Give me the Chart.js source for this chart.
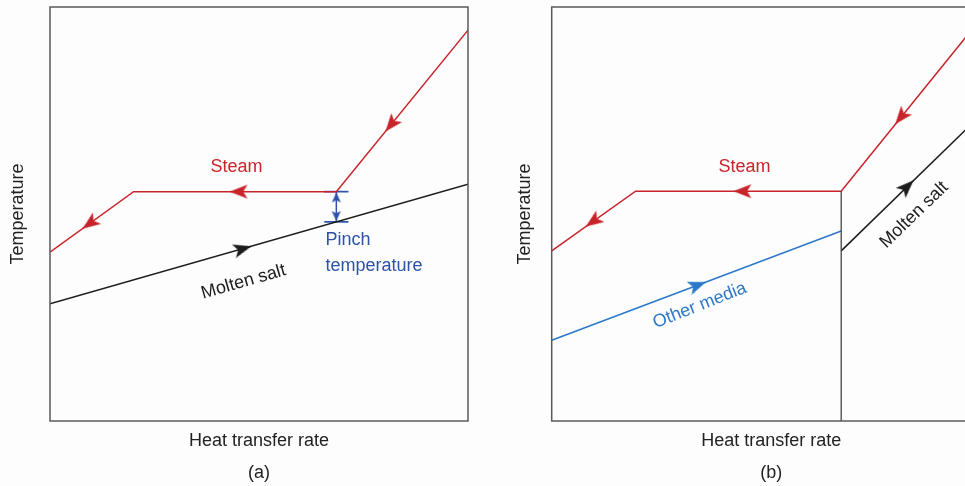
<!DOCTYPE html>
<html>
<head>
<meta charset="utf-8">
<script src="https://cdn.jsdelivr.net/npm/chart.js@4/dist/chart.umd.min.js"></script>
<style>
  html, body { margin: 0; padding: 0; background: #fdfdfd; width: 965px; height: 486px; overflow: hidden; }
  canvas { position: absolute; top: 0; }
  #panelA { left: 0; }
  #panelB { left: 490px; }
</style>
</head>
<body>
<canvas id="panelA" width="475" height="489"></canvas>
<canvas id="panelB" width="508" height="489"></canvas>
<script>
// ---- Panel (a): steam heated by molten salt alone ----
// points are [heat transfer rate %, temperature %]
const steamA = [[100, 94.4], [68.5, 55.4], [20.0, 55.4], [0, 40.8]];
const saltA = [[0, 28.3], [100, 57.2]];
const pinchLineA = [[68.5, 55.4], [68.5, 48.1]];
const pinchCapTopA = [[65.6, 55.4], [71.4, 55.4]];
const pinchCapBotA = [[65.6, 48.1], [71.4, 48.1]];
const pinchHeadsA = [[68.5, 54.0], [68.5, 49.5]];
const steamArrowsA = [[81.6, 71.6], [45.1, 55.4], [9.5, 47.7]];
const saltArrowsA = [[46.1, 41.6]];

// ---- Panel (b): other media for preheating, molten salt above the split ----
const steamB = [[96, 95.0], [65.9, 55.5], [19.1, 55.5], [0, 41.1]];
const otherB = [[0, 19.5], [65.9, 45.9]];
const saltB = [[65.9, 41.1], [97, 73.2]];
const splitB = [[65.9, 0], [65.9, 55.5]];
const steamArrowsB = [[79.5, 73.4], [43.4, 55.5], [9.4, 48.2]];
const otherArrowsB = [[33.2, 32.8]];
const saltArrowsB = [[80.9, 56.6]];

// text labels: [text, x, y]
const labelsA = [['Steam', 44.6, 61.4], ['Pinch', 65.9, 43.7], ['temperature', 65.9, 37.4], ['Molten salt', 46.3, 33.6]];
const labelsB = [['Steam', 43.9, 61.3], ['Other media', 33.7, 27.9], ['Molten salt', 82.5, 49.8]];

const RED = '#c8242b', BLACK = '#1c1c1c', PINCH = '#2d52aa', MEDIA = '#2b78c9', FRAME = '#5a5a5a';
const FONT = '"Liberation Sans", Arial, Helvetica, sans-serif';

const pts = arr => arr.map(([x, y]) => ({x, y}));

// notched arrowhead drawn pointing up, used as a point style
function arrowHead(color, len, wid) {
  const c = document.createElement('canvas');
  const s = Math.ceil(Math.max(len, wid)) + 2;
  c.width = s; c.height = s;
  const g = c.getContext('2d');
  const cx = s / 2, top = (s - len) / 2;
  g.fillStyle = color;
  g.beginPath();
  g.moveTo(cx, top);
  g.lineTo(cx + wid / 2, top + len);
  g.lineTo(cx, top + len * 0.77);
  g.lineTo(cx - wid / 2, top + len);
  g.closePath();
  g.fill();
  return c;
}
const headRed = arrowHead(RED, 18, 14);
const headBlack = arrowHead(BLACK, 18, 14);
const headMedia = arrowHead(MEDIA, 18, 14);
const headPinch = arrowHead(PINCH, 10, 9);

// direction of flow along a polyline at x, in degrees for point rotation
function flowAngle(chart, line, x, forward) {
  const sx = chart.scales.x, sy = chart.scales.y;
  for (let i = 0; i < line.length - 1; i++) {
    const a = line[i], b = line[i + 1];
    const lo = Math.min(a[0], b[0]), hi = Math.max(a[0], b[0]);
    if (x >= lo && x <= hi) {
      let p = a, q = b;
      if (!forward) { p = b; q = a; }
      const dx = sx.getPixelForValue(q[0]) - sx.getPixelForValue(p[0]);
      const dy = sy.getPixelForValue(q[1]) - sy.getPixelForValue(p[1]);
      return Math.atan2(dx, -dy) * 180 / Math.PI;
    }
  }
  return 0;
}

function lineSet(data, color, width) {
  return { data: pts(data), showLine: true, borderColor: color, borderWidth: width,
           pointRadius: 0, pointHoverRadius: 0, fill: false, tension: 0 };
}
function arrowSet(data, img, line, forward) {
  return { data: pts(data), showLine: false, pointStyle: img, pointRadius: 6, pointHoverRadius: 6,
           rotation: ctx => flowAngle(ctx.chart, line, ctx.raw.x, forward) };
}

// frame around the plotting area
const framePlugin = {
  id: 'frame',
  afterDatasetsDraw(chart) {
    const a = chart.chartArea, g = chart.ctx;
    g.save();
    g.strokeStyle = FRAME; g.lineWidth = 1.5;
    g.strokeRect(a.left, a.top, a.right - a.left, a.bottom - a.top);
    g.restore();
  }
};

// in-plot text labels positioned in data units
const textPlugin = {
  id: 'curveText',
  afterDatasetsDraw(chart, args, opts) {
    const g = chart.ctx, sx = chart.scales.x, sy = chart.scales.y;
    (opts.items || []).forEach(it => {
      g.save();
      g.translate(sx.getPixelForValue(it.x), sy.getPixelForValue(it.y));
      g.rotate((it.rot || 0) * Math.PI / 180);
      g.font = '18px ' + FONT;
      g.fillStyle = it.color;
      g.textAlign = it.align || 'center';
      g.textBaseline = 'middle';
      g.fillText(it.text, 0, 0);
      g.restore();
    });
  }
};

function makeChart(id, datasets, items, tag, yPad, layoutPad) {
  return new Chart(document.getElementById(id), {
    type: 'scatter',
    data: { datasets },
    options: {
      responsive: false,
      animation: false,
      events: [],
      layout: { padding: layoutPad },
      plugins: { legend: { display: false }, tooltip: { enabled: false }, curveText: { items } },
      scales: {
        x: {
          type: 'linear', min: 0, max: 100,
          grid: { display: false, drawTicks: false }, border: { display: false }, ticks: { display: false },
          title: { display: true, text: ['Heat transfer rate', tag], color: '#222',
                   font: { family: FONT, size: 18, lineHeight: 32 / 18 }, padding: { top: 4, bottom: 0 } }
        },
        y: {
          type: 'linear', min: 0, max: 100,
          grid: { display: false, drawTicks: false }, border: { display: false }, ticks: { display: false },
          title: { display: true, text: 'Temperature', color: '#222',
                   font: { family: FONT, size: 18, lineHeight: 1.2 }, padding: yPad }
        }
      }
    },
    plugins: [framePlugin, textPlugin]
  });
}

makeChart('panelA', [
  lineSet(saltA, BLACK, 1.5),
  lineSet(steamA, RED, 1.5),
  lineSet(pinchLineA, PINCH, 1.5),
  lineSet(pinchCapTopA, PINCH, 1.7),
  lineSet(pinchCapBotA, PINCH, 1.7),
  { data: pts(pinchHeadsA), showLine: false, pointStyle: headPinch, pointRadius: 4,
    rotation: ctx => ctx.dataIndex === 0 ? 0 : 180 },
  arrowSet(steamArrowsA, headRed, steamA, true),
  arrowSet(saltArrowsA, headBlack, saltA, true)
], [
  { text: labelsA[0][0], x: labelsA[0][1], y: labelsA[0][2], color: RED },
  { text: labelsA[1][0], x: labelsA[1][1], y: labelsA[1][2], color: PINCH, align: 'left' },
  { text: labelsA[2][0], x: labelsA[2][1], y: labelsA[2][2], color: PINCH, align: 'left' },
  { text: labelsA[3][0], x: labelsA[3][1], y: labelsA[3][2], color: BLACK, rot: -16 }
], '(a)', { top: 7.2, bottom: 21.2 }, { top: 7, right: 6, left: 0, bottom: 0 });

makeChart('panelB', [
  lineSet(splitB, '#444', 1.3),
  lineSet(otherB, MEDIA, 1.5),
  lineSet(saltB, BLACK, 1.5),
  lineSet(steamB, RED, 1.5),
  arrowSet(steamArrowsB, headRed, steamB, true),
  arrowSet(otherArrowsB, headMedia, otherB, true),
  arrowSet(saltArrowsB, headBlack, saltB, true)
], [
  { text: labelsB[0][0], x: labelsB[0][1], y: labelsB[0][2], color: RED },
  { text: labelsB[1][0], x: labelsB[1][1], y: labelsB[1][2], color: MEDIA, rot: -21.5 },
  { text: labelsB[2][0], x: labelsB[2][1], y: labelsB[2][2], color: BLACK, rot: -44 }
], '(b)', { top: 24.2, bottom: 15.9 }, { top: 5, right: 6, left: 0, bottom: 0 });
</script>
</body>
</html>
